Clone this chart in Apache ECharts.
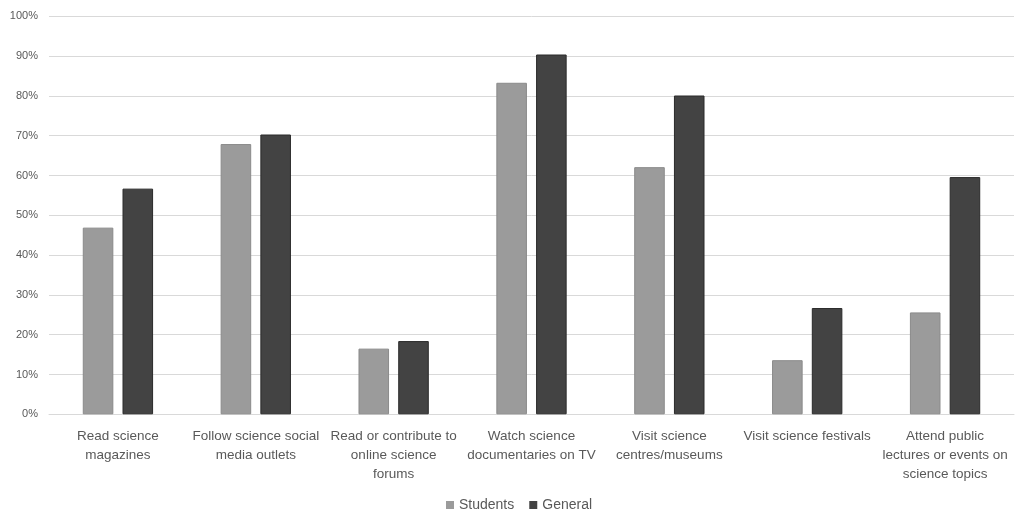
<!DOCTYPE html>
<html>
<head>
<meta charset="utf-8">
<script src="https://cdn.jsdelivr.net/npm/echarts@6/dist/echarts.min.js"></script>
<style>
html,body{margin:0;padding:0;background:#fff;}
#chart{width:1015px;height:511px;}
</style>
</head>
<body>
<div id="chart"></div>
<script>
const categories = [
  "Read science\nmagazines",
  "Follow science social\nmedia outlets",
  "Read or contribute to\nonline science\nforums",
  "Watch science\ndocumentaries on TV",
  "Visit science\ncentres/museums",
  "Visit science festivals",
  "Attend public\nlectures or events on\nscience topics"
];
const students = [46.9, 67.9, 16.5, 83.3, 62.1, 13.6, 25.6];
const general = [56.7, 70.3, 18.4, 90.4, 80.1, 26.7, 59.6];
const yTicks = { min: 0, max: 100, interval: 10 };

const chart = echarts.init(document.getElementById('chart'), null, { renderer: 'canvas' });
const font = '"Liberation Sans", Arial, sans-serif';
chart.setOption({
  animation: false,
  backgroundColor: '#ffffff',
  textStyle: { fontFamily: font },
  grid: { left: 49, right: 1, top: 16.3, bottom: 96.7, containLabel: false },
  legend: {
    data: ['Students', 'General'],
    left: 446,
    top: 497,
    padding: 0,
    itemWidth: 8,
    itemHeight: 8,
    itemGap: 15,
    icon: 'rect',
    itemStyle: { borderWidth: 0 },
    textStyle: { fontSize: 14, color: '#595959', fontFamily: font, lineHeight: 16 }
  },
  xAxis: {
    type: 'category',
    data: categories,
    axisLine: { lineStyle: { color: '#d9d9d9', width: 1 } },
    axisTick: { show: false },
    axisLabel: {
      interval: 0,
      margin: 12,
      fontSize: 13.5,
      lineHeight: 19,
      color: '#595959',
      fontFamily: font,
      align: 'center'
    }
  },
  yAxis: {
    type: 'value',
    min: yTicks.min,
    max: yTicks.max,
    interval: yTicks.interval,
    axisLine: { show: false },
    axisTick: { show: false },
    splitLine: { lineStyle: { color: '#d9d9d9', width: 1 } },
    axisLabel: {
      formatter: '{value}%',
      fontSize: 11,
      color: '#595959',
      margin: 11,
      fontFamily: font
    }
  },
  series: [
    {
      name: 'Students',
      type: 'bar',
      data: students,
      barGap: '30%',
      barCategoryGap: '49%',
      itemStyle: { color: '#9b9b9b', borderColor: '#8a8a8a', borderWidth: 1 }
    },
    {
      name: 'General',
      type: 'bar',
      data: general,
      itemStyle: { color: '#434343', borderColor: '#2a2a2a', borderWidth: 1 }
    }
  ]
});
</script>
</body>
</html>
